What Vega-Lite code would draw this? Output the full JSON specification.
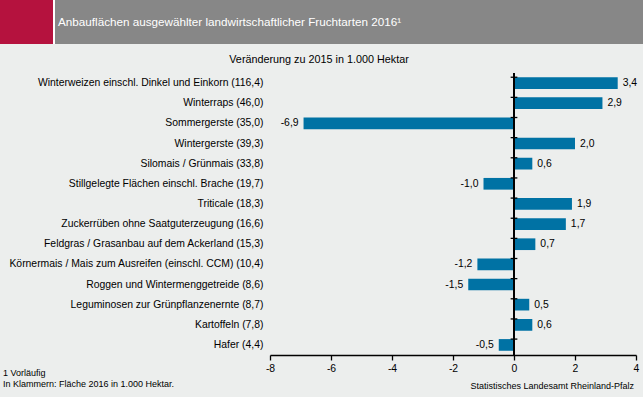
{
  "$schema": "https://vega.github.io/schema/vega-lite/v6.json",
  "width": 366,
  "height": 282,
  "autosize": {"type": "none"},
  "padding": {"left": 270, "top": 73, "right": 7, "bottom": 42},
  "background": "#eceeed",
  "config": {
    "font": "Liberation Sans",
    "view": {"stroke": null},
    "locale": {"number": {"decimal": ",", "thousands": ".", "grouping": [3], "currency": ["", " €"], "minus": "-"}}
  },
  "data": {
    "values": [
      {"cat": "Winterweizen einschl. Dinkel und Einkorn (116,4)", "v": 3.4},
      {"cat": "Winterraps (46,0)", "v": 2.9},
      {"cat": "Sommergerste (35,0)", "v": -6.9},
      {"cat": "Wintergerste (39,3)", "v": 2.0},
      {"cat": "Silomais / Grünmais (33,8)", "v": 0.6},
      {"cat": "Stillgelegte Flächen einschl. Brache (19,7)", "v": -1.0},
      {"cat": "Triticale (18,3)", "v": 1.9},
      {"cat": "Zuckerrüben ohne Saatguterzeugung (16,6)", "v": 1.7},
      {"cat": "Feldgras / Grasanbau auf dem Ackerland (15,3)", "v": 0.7},
      {"cat": "Körnermais / Mais zum Ausreifen (einschl. CCM) (10,4)", "v": -1.2},
      {"cat": "Roggen und Wintermenggetreide (8,6)", "v": -1.5},
      {"cat": "Leguminosen zur Grünpflanzenernte (8,7)", "v": 0.5},
      {"cat": "Kartoffeln (7,8)", "v": 0.6},
      {"cat": "Hafer (4,4)", "v": -0.5}
    ]
  },
  "layer": [
    {
      "mark": {"type": "bar", "color": "#0072a4"},
      "encoding": {
        "y": {
          "field": "cat", "type": "nominal", "sort": null,
          "scale": {"paddingInner": 0.42, "paddingOuter": 0.21},
          "axis": {"title": null, "domain": false, "ticks": false, "tickSize": 0, "labelPadding": 7, "labelFontSize": 10.4, "labelColor": "#000000", "labelFont": "Liberation Sans", "labelLimit": 300}
        },
        "x": {
          "field": "v", "type": "quantitative",
          "scale": {"domain": [-8, 4], "nice": false, "zero": false},
          "axis": {"title": null, "values": [-8, -6, -4, -2, 0, 2, 4], "grid": false, "domainColor": "#000000", "domainWidth": 1.3, "tickColor": "#000000", "tickSize": 5, "tickWidth": 1.3, "labelFontSize": 10.4, "labelColor": "#000000", "labelPadding": 3, "labelFlush": false, "format": "d"}
        }
      }
    },
    {
      "mark": {"type": "rule", "color": "#000000", "strokeWidth": 1.3},
      "encoding": {"x": {"datum": 0}}
    },
    {
      "mark": {"type": "rule", "color": "#000000", "strokeWidth": 1.3},
      "encoding": {
        "y": {"field": "cat", "type": "nominal", "sort": null, "bandPosition": 0},
        "x": {"datum": -0.11},
        "x2": {"datum": 0.11}
      }
    },
    {
      "transform": [{"filter": "datum.v >= 0"}],
      "mark": {"type": "text", "align": "left", "dx": 5, "fontSize": 10.4, "color": "#000000"},
      "encoding": {
        "y": {"field": "cat", "type": "nominal", "sort": null},
        "x": {"field": "v", "type": "quantitative"},
        "text": {"field": "v", "type": "quantitative", "format": ".1f"}
      }
    },
    {
      "transform": [{"filter": "datum.v < 0"}],
      "mark": {"type": "text", "align": "right", "dx": -5, "fontSize": 10.4, "color": "#000000"},
      "encoding": {
        "y": {"field": "cat", "type": "nominal", "sort": null},
        "x": {"field": "v", "type": "quantitative"},
        "text": {"field": "v", "type": "quantitative", "format": ".1f"}
      }
    },
    {
      "data": {"values": [{}]},
      "mark": {"type": "rect", "color": "#b5123e", "clip": false},
      "encoding": {"x": {"value": -270}, "x2": {"value": -217}, "y": {"value": -73}, "y2": {"value": -29}}
    },
    {
      "data": {"values": [{}]},
      "mark": {"type": "rect", "color": "#ffffff", "clip": false},
      "encoding": {"x": {"value": -217}, "x2": {"value": -215}, "y": {"value": -73}, "y2": {"value": -29}}
    },
    {
      "data": {"values": [{}]},
      "mark": {"type": "rect", "color": "#878787", "clip": false},
      "encoding": {"x": {"value": -215}, "x2": {"value": 373}, "y": {"value": -73}, "y2": {"value": -29}}
    },
    {
      "data": {"values": [{"t": "Anbauflächen ausgewählter landwirtschaftlicher Fruchtarten 2016¹"}]},
      "mark": {"type": "text", "align": "left", "baseline": "middle", "fontSize": 11.7, "color": "#ffffff"},
      "encoding": {"x": {"value": -212}, "y": {"value": -51}, "text": {"field": "t"}}
    },
    {
      "data": {"values": [{"t": "Veränderung zu 2015 in 1.000 Hektar"}]},
      "mark": {"type": "text", "align": "center", "baseline": "middle", "fontSize": 10.8, "color": "#000000"},
      "encoding": {"x": {"value": 49}, "y": {"value": -13}, "text": {"field": "t"}}
    },
    {
      "data": {"values": [{"t": "1 Vorläufig"}]},
      "mark": {"type": "text", "align": "left", "baseline": "middle", "fontSize": 9, "color": "#000000"},
      "encoding": {"x": {"value": -267}, "y": {"value": 300}, "text": {"field": "t"}}
    },
    {
      "data": {"values": [{"t": "In Klammern: Fläche 2016 in 1.000 Hektar."}]},
      "mark": {"type": "text", "align": "left", "baseline": "middle", "fontSize": 9, "color": "#000000"},
      "encoding": {"x": {"value": -267}, "y": {"value": 311}, "text": {"field": "t"}}
    },
    {
      "data": {"values": [{"t": "Statistisches Landesamt Rheinland-Pfalz"}]},
      "mark": {"type": "text", "align": "right", "baseline": "middle", "fontSize": 9, "color": "#000000"},
      "encoding": {"x": {"value": 364}, "y": {"value": 313}, "text": {"field": "t"}}
    }
  ]
}
